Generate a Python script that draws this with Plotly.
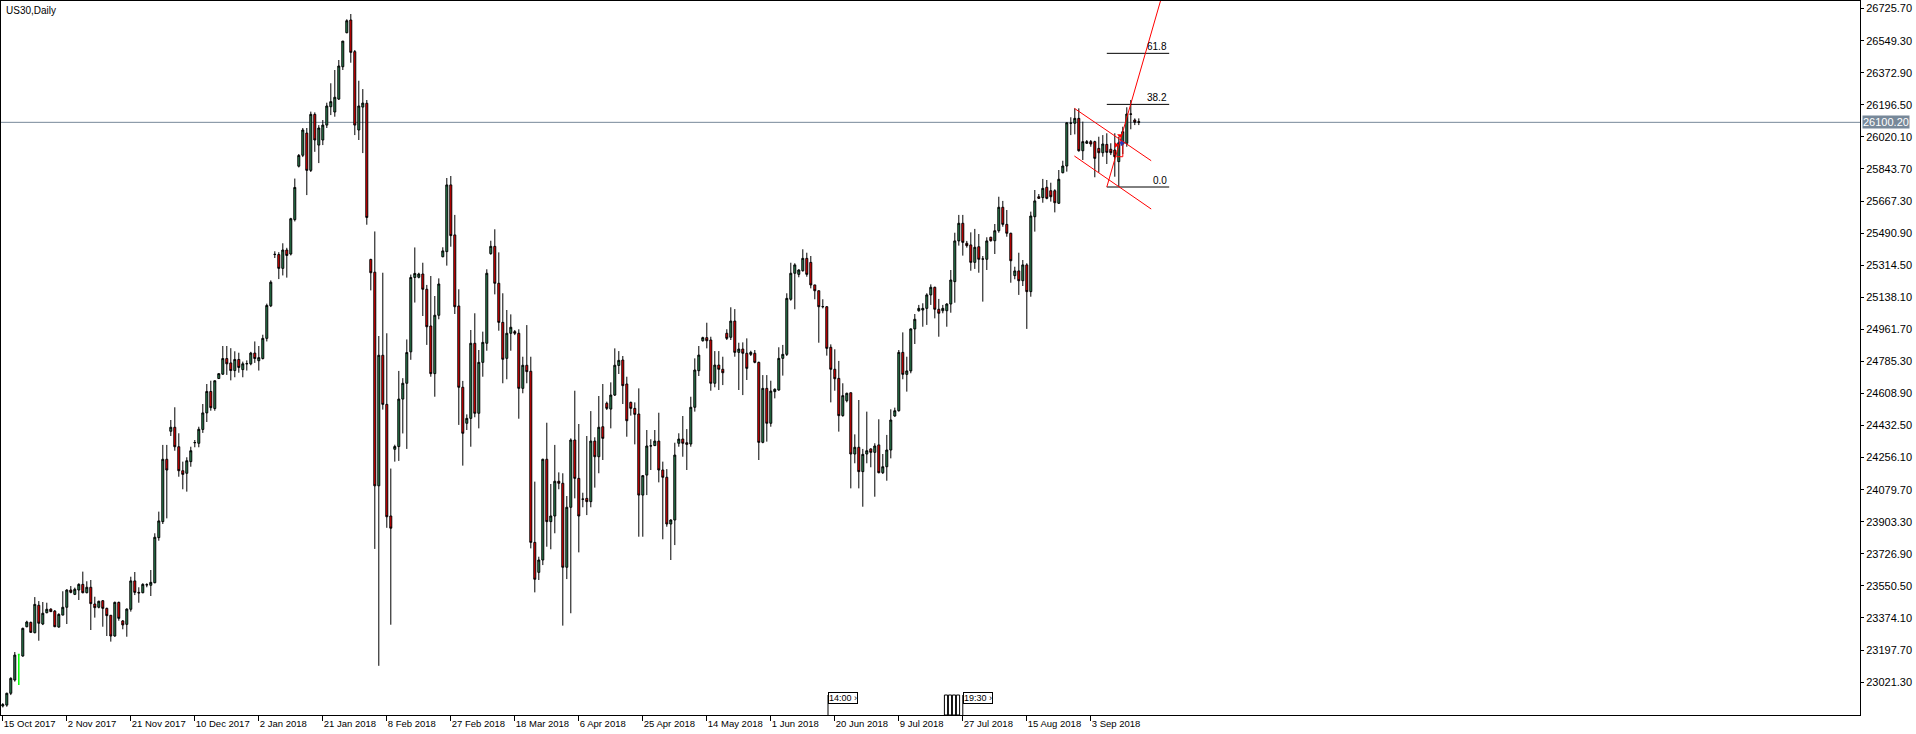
import plotly.graph_objects as go

# ---------------- data ----------------
bar_open = [22890,22895,22960,23033,23173,23165,23326,23350,23293,23444,
23341,23403,23423,23412,23324,23390,23433,23528,23504,23528,
23559,23513,23543,23451,23433,23469,23427,23389,23275,23460,
23358,23339,23422,23578,23515,23513,23556,23554,23568,23816,
23904,24247,24401,24423,24316,24184,24170,24234,24338,24335,
24411,24502,24620,24526,24691,24715,24801,24777,24735,24796,
24740,24772,24772,24831,24789,24801,24912,25091,25373,25373,
25297,25398,25376,25565,25859,25919,26041,25836,26144,25975,
26003,26085,26186,26157,26228,26406,26593,26663,26489,26058,
26184,26205,25346,25276,24101,24819,24549,23935,24302,24317,
24578,24665,24838,25247,25248,25266,25182,24980,24718,25039,
25361,25389,25756,25481,25090,24643,24445,24472,24885,24500,
24780,24885,25378,25418,25215,25000,24802,24940,24949,24940,
24637,24764,24731,23790,23625,23693,24247,23904,23935,24126,
24115,23653,23983,24353,24142,24027,24032,24014,24347,24261,
24426,24555,24523,24600,24763,24793,24661,24560,24527,24496,
24050,24160,24320,24322,24347,24188,24148,23891,23913,24335,
24358,24338,24331,24533,24734,24899,24916,24903,24665,24765,
24742,24940,24918,25007,24835,24853,24830,24824,24830,24780,
24340,24637,24445,24619,24628,24802,24824,25127,25270,25264,
25284,25352,25330,25206,25174,25086,25086,24863,24742,24692,
24487,24569,24613,24276,24313,24179,24276,24304,24285,24326,
24173,24206,24298,24485,24514,24835,24714,24733,24964,25064,
25068,25077,25151,25193,25072,25064,25064,25101,25224,25448,
25545,25435,25426,25330,25416,25349,25347,25468,25449,25504,
25633,25539,25490,25257,25283,25229,25316,25169,25581,25691,
25686,25743,25724,25724,25655,25823,25860,26095,26095,26122,
25944,25985,25994,25994,25957,25933,25979,25952,25948,25884,
25981,25985,26146,26113,26104]
bar_high = [22906,22963,23048,23187,23176,23321,23359,23354,23489,23467,
23462,23458,23427,23418,23400,23521,23532,23550,23541,23565,
23629,23576,23583,23491,23469,23473,23431,23390,23464,23464,
23363,23427,23601,23627,23543,23565,23565,23638,23840,23959,
24326,24326,24463,24533,24390,24234,24258,24316,24353,24426,
24551,24661,24679,24679,24718,24870,24870,24858,24841,24833,
24784,24791,24838,24895,24870,24932,25103,25231,25391,25386,
25435,25410,25575,25791,25926,26069,26069,26159,26155,26085,
26113,26208,26315,26388,26443,26547,26667,26696,26498,26329,
26283,26223,25350,25500,24925,25273,24940,24196,24327,24733,
24693,24906,25263,25412,25273,25328,25206,25255,25145,25242,
25413,25794,25805,25591,25182,24678,24494,24958,25050,24848,
24949,25292,25449,25512,25385,25160,25068,25044,24958,24962,
24811,24985,24811,24124,23711,24250,24448,24111,24326,24175,
24170,24045,24362,24624,24441,24063,24375,24512,24368,24595,
24661,24564,24670,24857,24842,24815,24701,24564,24560,24637,
24160,24408,24357,24408,24503,24234,24193,23917,24338,24390,
24485,24413,24591,24802,24870,24921,24998,24921,24842,24842,
24811,24962,25083,25073,24888,24890,24912,24844,24848,24784,
24710,24710,24679,24637,24863,24876,25160,25328,25325,25292,
25402,25383,25365,25206,25174,25127,25090,24879,24852,24788,
24665,24613,24613,24384,24573,24304,24509,24307,24335,24467,
24276,24381,24522,24531,24848,24945,24811,24967,25046,25096,
25105,25160,25209,25196,25129,25096,25105,25288,25493,25591,
25591,25448,25495,25514,25486,25365,25468,25471,25541,25691,
25668,25618,25493,25306,25383,25343,25325,25609,25728,25706,
25789,25783,25768,25732,25838,25889,26098,26128,26177,26177,
26104,26003,26003,25999,26021,26030,26040,25985,26040,26021,
26076,26183,26223,26122,26122]
bar_low = [22882,22886,22950,23024,23005,23161,23323,23293,23290,23249,
23335,23400,23407,23324,23321,23389,23341,23510,23500,23473,
23510,23510,23308,23376,23427,23326,23275,23244,23271,23359,
23312,23271,23409,23500,23458,23510,23543,23495,23565,23799,
23891,23922,24375,24294,24151,24082,24069,24206,24313,24313,
24392,24452,24514,24514,24691,24711,24711,24681,24698,24723,
24698,24735,24764,24777,24735,24796,24895,25084,25354,25238,
25258,25246,25368,25555,25852,25909,25700,25827,25938,25876,
25975,26069,26140,26131,26223,26388,26590,26428,26030,26003,
25931,25537,25176,23754,23111,24520,23870,23337,24234,24238,
24389,24304,24794,25109,25242,25035,24876,24701,24591,25017,
25358,25312,25416,25046,24436,24212,24408,24316,24478,24417,
24701,24844,25372,25154,24954,24665,24687,24844,24930,24470,
24610,24665,23757,23515,23583,23665,23766,23752,23840,24082,
23332,23588,23400,24032,23735,23983,23940,23983,24091,24170,
24243,24518,24417,24595,24716,24551,24371,24487,24329,23821,
23821,24050,24188,24320,24120,23807,23876,23693,23775,24316,
24261,24188,24316,24509,24705,24894,24857,24624,24643,24628,
24655,24903,24903,24811,24628,24600,24683,24815,24775,24243,
24335,24344,24426,24582,24624,24707,24815,25119,25072,25248,
25279,25251,25187,25127,24888,25077,24817,24560,24624,24399,
24481,24560,24087,24225,24087,23986,24225,24203,24041,24170,
24166,24129,24252,24481,24509,24687,24619,24720,24881,25059,
24976,24986,25096,25022,24921,25050,24976,25053,25108,25422,
25367,25411,25284,25294,25273,25114,25288,25444,25376,25493,
25526,25471,25218,25237,25151,25200,24964,25141,25499,25679,
25658,25677,25664,25605,25651,25820,25829,26030,26034,25939,
25893,25981,25966,25798,25823,25911,25871,25920,25801,25746,
25926,25966,26062,26085,26085]
bar_close = [22898,22960,23042,23170,23173,23317,23352,23295,23449,23345,
23400,23422,23409,23326,23394,23433,23528,23515,23532,23559,
23513,23543,23453,23431,23466,23427,23387,23275,23460,23372,
23336,23423,23578,23515,23512,23559,23557,23570,23818,23908,
24247,24188,24423,24316,24184,24164,24239,24294,24339,24412,
24502,24620,24531,24679,24718,24801,24772,24735,24796,24752,
24772,24773,24831,24801,24806,24912,25093,25221,25374,25297,
25398,25368,25570,25742,25918,26058,25836,26144,26003,26069,
26085,26190,26214,26238,26410,26547,26659,26485,26085,26190,
26206,25577,25273,24101,24819,24549,23931,23868,24317,24578,
24665,24834,25247,25269,25266,25182,24976,24718,25039,25211,
25393,25756,25477,25086,24643,24390,24472,24885,24500,24780,
24890,25270,25418,25215,25000,24797,24940,24973,24940,24637,
24764,24729,23790,23587,23693,24247,23904,23935,24126,24115,
23653,23983,24353,24142,23935,24028,24014,24347,24261,24423,
24362,24527,24600,24764,24791,24652,24459,24527,24494,24050,
24157,24320,24321,24347,24188,24148,23891,23913,24270,24358,
24335,24329,24533,24738,24820,24916,24899,24665,24765,24742,
24723,24912,25007,24835,24853,24830,24747,24835,24780,24340,
24637,24445,24622,24632,24802,24824,25132,25270,25316,25288,
25352,25264,25206,25174,25086,25087,24857,24742,24690,24487,
24597,24610,24276,24313,24179,24274,24294,24285,24320,24173,
24206,24298,24463,24514,24835,24714,24733,24964,25017,25077,
25077,25151,25193,25072,25050,25077,25101,25233,25448,25545,
25440,25422,25330,25413,25347,25348,25448,25449,25504,25633,
25539,25490,25339,25283,25229,25316,25169,25585,25668,25682,
25737,25682,25691,25658,25787,25860,26098,26096,26122,25944,
25994,25994,25981,25902,25933,25981,25935,25933,25911,25988,
26049,26146,26145,26100,26100.2]

date_labels = ["15 Oct 2017", "2 Nov 2017", "21 Nov 2017", "10 Dec 2017", "2 Jan 2018",
               "21 Jan 2018", "8 Feb 2018", "27 Feb 2018", "18 Mar 2018", "6 Apr 2018",
               "25 Apr 2018", "14 May 2018", "1 Jun 2018", "20 Jun 2018", "9 Jul 2018",
               "27 Jul 2018", "15 Aug 2018", "3 Sep 2018"]
date_label_bars = [0, 16, 32, 48, 64, 80, 96, 112, 128, 144, 160, 176, 192, 208, 224, 240, 256, 272]
price_ticks = [23021.30, 23197.70, 23374.10, 23550.50, 23726.90, 23903.30, 24079.70,
               24256.10, 24432.50, 24608.90, 24785.30, 24961.70, 25138.10, 25314.50,
               25490.90, 25667.30, 25843.70, 26020.10, 26196.50, 26372.90, 26549.30, 26725.70]
last_price = 26100.20
highlight_bar = 4

# fibonacci object and channel (drawn objects)
fib_price_0 = 25744.5
fib_price_100 = 26934.0
fib_bar_start = 276.0
fib_bar_end = 291.6
fib_levels = [0.0, 38.2, 61.8]
channel_bars = [267.9, 287.1]
channel_upper = [26177, 25889]
channel_lower = [25915, 25623.5]

# trade marks near the last bars
trade_arrow_bars = [279.3, 278.3]
trade_arrow_prices = [26028, 25975]
trade_cross_bar = [279.7]
trade_cross_price = [25988]
trade_bracket_bars = [278.4, 280.0, 280.0]
trade_bracket_prices = [25911, 25911, 25986]

# calendar event markers at the bottom (bar position, label)
event_single = (206.3, "14:00")
event_stack_bars = [235.8, 236.8, 237.8, 238.8]
event_last = (240.0, "19:30")

FONT = "Liberation Sans"

# ---------------- figure ----------------
n = len(bar_open)
idx = list(range(n))
main_idx = [i for i in idx if i != highlight_bar]

fig = go.Figure()
fig.add_trace(go.Candlestick(
    x=main_idx,
    open=[bar_open[i] for i in main_idx],
    high=[bar_high[i] for i in main_idx],
    low=[bar_low[i] for i in main_idx],
    close=[bar_close[i] for i in main_idx],
    increasing=dict(line=dict(color="black", width=1), fillcolor="#2e8b57"),
    decreasing=dict(line=dict(color="black", width=1), fillcolor="#ff0000"),
    whiskerwidth=0, hoverinfo="skip", showlegend=False))
fig.add_trace(go.Candlestick(
    x=[highlight_bar],
    open=[bar_open[highlight_bar]], high=[bar_high[highlight_bar]],
    low=[bar_low[highlight_bar]], close=[bar_close[highlight_bar]],
    increasing=dict(line=dict(color="#00ff00", width=1.5), fillcolor="#00ff00"),
    decreasing=dict(line=dict(color="#00ff00", width=1.5), fillcolor="#00ff00"),
    whiskerwidth=0, hoverinfo="skip", showlegend=False))
# trade marks
fig.add_trace(go.Scatter(x=trade_bracket_bars, y=trade_bracket_prices, mode="lines",
                         line=dict(color="#ff0000", width=1), hoverinfo="skip", showlegend=False))
fig.add_trace(go.Scatter(x=trade_arrow_bars, y=trade_arrow_prices, mode="markers",
                         marker=dict(symbol=["triangle-down", "triangle-right"], size=5, color="#ff0000"),
                         hoverinfo="skip", showlegend=False))
fig.add_trace(go.Scatter(x=trade_cross_bar, y=trade_cross_price, mode="markers",
                         marker=dict(symbol="cross", size=5, color="#1f3fbf"),
                         hoverinfo="skip", showlegend=False))

shapes = []
annotations = []
# last price line
shapes.append(dict(type="line", xref="paper", x0=0, x1=1, yref="y", y0=last_price, y1=last_price,
                   line=dict(color="#778899", width=1), layer="below"))
# fib levels
for lv in fib_levels:
    p = fib_price_0 + (fib_price_100 - fib_price_0) * lv / 100.0
    shapes.append(dict(type="line", x0=fib_bar_start, x1=fib_bar_end, y0=p, y1=p,
                       line=dict(color="black", width=1)))
    annotations.append(dict(x=fib_bar_end, y=p, text="%.1f" % lv, showarrow=False,
                            xanchor="right", yanchor="bottom", yshift=-1,
                            font=dict(family=FONT, size=10, color="black")))
# fib diagonal
shapes.append(dict(type="line", x0=fib_bar_start, x1=fib_bar_end, y0=fib_price_0, y1=fib_price_100,
                   line=dict(color="#ff0000", width=1)))
# channel
shapes.append(dict(type="line", x0=channel_bars[0], x1=channel_bars[1], y0=channel_upper[0], y1=channel_upper[1],
                   line=dict(color="#ff0000", width=1)))
shapes.append(dict(type="line", x0=channel_bars[0], x1=channel_bars[1], y0=channel_lower[0], y1=channel_lower[1],
                   line=dict(color="#ff0000", width=1)))

# event markers (bottom of chart, paper y)
ev_y0, ev_y1 = 0.0, 0.028
for b in event_stack_bars:
    shapes.append(dict(type="rect", x0=b - 0.4, x1=b + 0.4, yref="paper", y0=ev_y0, y1=ev_y1,
                       line=dict(color="black", width=1), fillcolor="white"))
for b, lab in [event_single, event_last]:
    shapes.append(dict(type="line", x0=b, x1=b, yref="paper", y0=0, y1=ev_y1,
                       line=dict(color="black", width=1)))
    annotations.append(dict(x=b, yref="paper", y=(ev_y1 + 0.012) / 2 + 0.004, xanchor="left", yanchor="middle",
                            text=lab + " ›", showarrow=False, bordercolor="black", borderwidth=1,
                            borderpad=0, bgcolor="white",
                            font=dict(family=FONT, size=9, color="black")))

# title
annotations.append(dict(xref="paper", yref="paper", x=0, y=1, xanchor="left", yanchor="top",
                        xshift=3, yshift=-2, text="US30,Daily", showarrow=False,
                        font=dict(family=FONT, size=10, color="black")))
# last price label
annotations.append(dict(xref="paper", yref="y", x=1, y=last_price, xanchor="left", yanchor="middle",
                        xshift=2, text="%.2f" % last_price, showarrow=False, bgcolor="#778899",
                        borderpad=0, font=dict(family=FONT, size=11, color="white")))

fig.update_layout(
    width=1916, height=734, autosize=False,
    margin=dict(l=1, r=56, t=1, b=19),
    paper_bgcolor="white", plot_bgcolor="white",
    boxgap=0.3,
    shapes=shapes, annotations=annotations,
    xaxis=dict(range=[-0.45, 464.3], showgrid=False, zeroline=False, automargin=False,
               rangeslider=dict(visible=False),
               showline=True, linecolor="black", linewidth=1, mirror=True,
               tickmode="array", tickvals=date_label_bars, ticktext=date_labels,
               ticks="outside", ticklen=5, tickcolor="black", tickangle=0,
               ticklabelposition="outside right",
               tickfont=dict(family=FONT, size=9.5, color="black")),
    yaxis=dict(range=[22840.5, 26767.5], side="right", showgrid=False, zeroline=False, automargin=False,
               showline=True, linecolor="black", linewidth=1, mirror=True,
               tickmode="array", tickvals=price_ticks, ticktext=["%.2f" % v for v in price_ticks],
               ticks="outside", ticklen=3, tickcolor="black",
               tickfont=dict(family=FONT, size=11, color="black")),
)

fig.write_html("out.html", config={"displayModeBar": False},
               post_script="document.body.style.margin='0px';document.body.style.overflow='hidden';")
